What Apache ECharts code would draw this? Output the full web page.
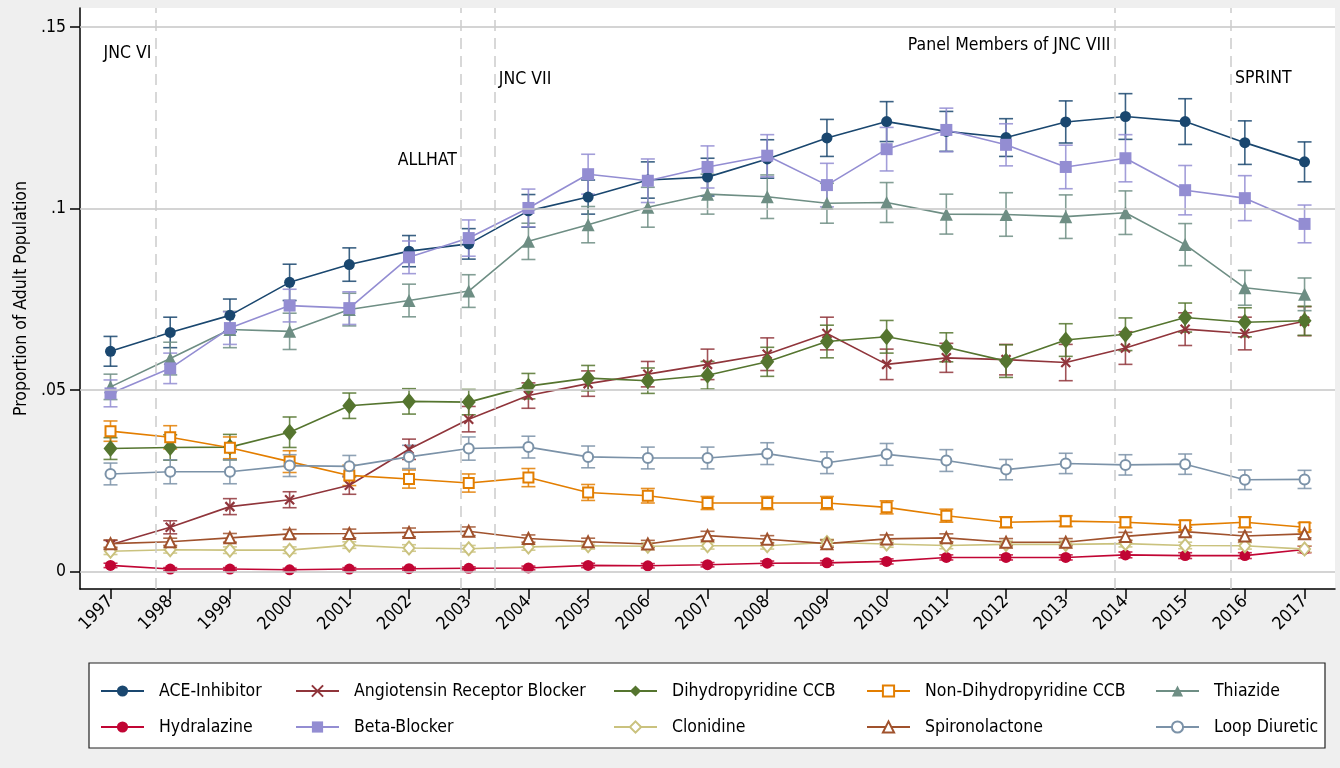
<!DOCTYPE html>
<html><head><meta charset="utf-8">
<script src="https://cdn.jsdelivr.net/npm/echarts@6/dist/echarts.min.js"></script>
<style>html,body{margin:0;padding:0;background:#efefef;}#c{width:1340px;height:768px;}</style>
</head><body><div id="c"></div>
<script>
// ---------- data ----------
const years = [1997,1998,1999,2000,2001,2002,2003,2004,2005,2006,2007,2008,2009,2010,2011,2012,2013,2014,2015,2016,2017];
const yTicks = [0, 0.05, 0.1, 0.15];

const aceInhibitor = [0.0607,0.0659,0.0706,0.0797,0.0846,0.0883,0.0903,0.0994,0.1032,0.1079,0.1087,0.1137,0.1195,0.1240,0.1213,0.1196,0.1239,0.1254,0.1240,0.1182,0.1129];
const aceErr       = [0.0041,0.0042,0.0045,0.0050,0.0046,0.0043,0.0042,0.0045,0.0047,0.0050,0.0052,0.0053,0.0051,0.0055,0.0055,0.0052,0.0058,0.0063,0.0063,0.0060,0.0055];
const arb          = [0.0074,0.0122,0.0179,0.0198,0.0238,0.0337,0.0420,0.0485,0.0518,0.0544,0.0571,0.0599,0.0656,0.0571,0.0589,0.0584,0.0576,0.0616,0.0668,0.0656,0.0690];
const arbErr       = [0.0012,0.0018,0.0022,0.0022,0.0025,0.0028,0.0035,0.0035,0.0035,0.0035,0.0042,0.0045,0.0045,0.0042,0.0040,0.0042,0.0050,0.0045,0.0045,0.0045,0.0040];
const dhpCcb       = [0.0339,0.0342,0.0343,0.0384,0.0457,0.0469,0.0467,0.0511,0.0533,0.0526,0.0541,0.0578,0.0634,0.0647,0.0618,0.0580,0.0638,0.0654,0.0700,0.0687,0.0691];
const dhpErr       = [0.0030,0.0035,0.0035,0.0042,0.0035,0.0035,0.0035,0.0035,0.0035,0.0035,0.0038,0.0040,0.0045,0.0045,0.0040,0.0045,0.0045,0.0045,0.0040,0.0040,0.0040];
const nonDhpCcb    = [0.0387,0.0370,0.0341,0.0303,0.0265,0.0255,0.0244,0.0259,0.0218,0.0209,0.0189,0.0189,0.0189,0.0177,0.0154,0.0136,0.0139,0.0136,0.0128,0.0136,0.0122];
const nonDhpErr    = [0.0028,0.0032,0.0030,0.0030,0.0028,0.0025,0.0025,0.0025,0.0022,0.0020,0.0018,0.0018,0.0018,0.0018,0.0018,0.0015,0.0015,0.0015,0.0013,0.0015,0.0012];
const thiazide     = [0.0509,0.0587,0.0667,0.0662,0.0722,0.0747,0.0773,0.0910,0.0956,0.1004,0.1040,0.1033,0.1015,0.1017,0.0985,0.0984,0.0978,0.0989,0.0901,0.0782,0.0764];
const thiazideErr  = [0.0035,0.0045,0.0050,0.0050,0.0045,0.0045,0.0045,0.0050,0.0050,0.0055,0.0055,0.0060,0.0055,0.0055,0.0055,0.0060,0.0060,0.0060,0.0058,0.0048,0.0045];
const hydralazine  = [0.0017,0.0007,0.0007,0.0005,0.0007,0.0008,0.0009,0.0010,0.0017,0.0016,0.0019,0.0023,0.0024,0.0028,0.0039,0.0039,0.0039,0.0046,0.0044,0.0044,0.0061];
const hydraErr     = [0.0006,0.0004,0.0004,0.0004,0.0004,0.0004,0.0004,0.0005,0.0006,0.0006,0.0006,0.0006,0.0006,0.0007,0.0007,0.0007,0.0007,0.0008,0.0008,0.0008,0.0009];
const betaBlocker  = [0.0491,0.0560,0.0671,0.0733,0.0726,0.0866,0.0919,0.1002,0.1095,0.1077,0.1115,0.1146,0.1065,0.1164,0.1217,0.1176,0.1115,0.1139,0.1051,0.1029,0.0958];
const betaErr      = [0.0037,0.0042,0.0045,0.0045,0.0045,0.0045,0.0050,0.0052,0.0055,0.0060,0.0058,0.0058,0.0060,0.0060,0.0060,0.0058,0.0060,0.0065,0.0068,0.0062,0.0052];
const clonidine    = [0.0056,0.0060,0.0059,0.0059,0.0073,0.0065,0.0063,0.0068,0.0071,0.0070,0.0071,0.0071,0.0080,0.0076,0.0072,0.0075,0.0075,0.0077,0.0072,0.0071,0.0062];
const clonErr      = [0.0009,0.0009,0.0009,0.0009,0.0009,0.0009,0.0009,0.0009,0.0009,0.0009,0.0009,0.0009,0.0009,0.0009,0.0009,0.0009,0.0009,0.0009,0.0009,0.0009,0.0009];
const spironolactone = [0.0077,0.0082,0.0093,0.0104,0.0105,0.0108,0.0111,0.0091,0.0082,0.0076,0.0099,0.0089,0.0077,0.0090,0.0093,0.0081,0.0081,0.0097,0.0110,0.0098,0.0104];
const spiroErr     = [0.0010,0.0010,0.0012,0.0012,0.0012,0.0012,0.0012,0.0010,0.0010,0.0010,0.0012,0.0010,0.0010,0.0011,0.0011,0.0010,0.0010,0.0011,0.0012,0.0011,0.0011];
const loopDiuretic = [0.0269,0.0275,0.0275,0.0292,0.0290,0.0316,0.0339,0.0343,0.0316,0.0313,0.0313,0.0325,0.0300,0.0323,0.0306,0.0281,0.0298,0.0294,0.0296,0.0253,0.0254];
const loopErr      = [0.0030,0.0033,0.0033,0.0030,0.0030,0.0032,0.0032,0.0030,0.0030,0.0030,0.0030,0.0030,0.0030,0.0030,0.0030,0.0028,0.0028,0.0028,0.0028,0.0027,0.0025];

const eventYears  = [1997.752, 2002.868, 2003.437, 2013.816, 2015.77];
const eventLabels = ['JNC VI', 'ALLHAT', 'JNC VII', 'Panel Members of JNC VIII', 'SPRINT'];
const eventLabelY = [0.1429, 0.1132, 0.1357, 0.1451, 0.1360];
const eventAlign  = ['right', 'right', 'left', 'right', 'left'];

// ---------- styling ----------
const FONT = "'DejaVu Sans Condensed','Liberation Sans',sans-serif";
const FS = 17.5;
const defs = [
  {name:'ACE-Inhibitor', v:aceInhibitor, e:aceErr, c:'#1a476f', sym:'circle', size:11},
  {name:'Angiotensin Receptor Blocker', v:arb, e:arbErr, c:'#90353b', sym:'path://M0,0L10,10M10,0L0,10', size:9, cross:true},
  {name:'Dihydropyridine CCB', v:dhpCcb, e:dhpErr, c:'#55752f', sym:'diamond', size:[14,17]},
  {name:'Non-Dihydropyridine CCB', v:nonDhpCcb, e:nonDhpErr, c:'#e37e00', sym:'emptyRect', size:10},
  {name:'Thiazide', v:thiazide, e:thiazideErr, c:'#6e8e84', sym:'triangle', size:13},
  {name:'Hydralazine', v:hydralazine, e:hydraErr, c:'#c10534', sym:'circle', size:11},
  {name:'Beta-Blocker', v:betaBlocker, e:betaErr, c:'#938dd2', sym:'rect', size:12},
  {name:'Clonidine', v:clonidine, e:clonErr, c:'#cac27e', sym:'emptyDiamond', size:[11,13]},
  {name:'Spironolactone', v:spironolactone, e:spiroErr, c:'#a0522d', sym:'emptyTriangle', size:11},
  {name:'Loop Diuretic', v:loopDiuretic, e:loopErr, c:'#7b92a8', sym:'emptyCircle', size:10}
];

const series = [];
series.push({
  type:'line', name:'_grid', data:[], silent:true, z:1,
  markLine:{silent:true, symbol:'none', animation:false, label:{show:false},
    lineStyle:{color:'#c6c6c6', width:1.5, type:'solid'},
    data: yTicks.map(v => ({yAxis:v}))}
});
series.push({
  type:'line', name:'_events', data:[], silent:true, z:1,
  markLine:{silent:true, symbol:'none', animation:false, label:{show:false},
    lineStyle:{color:'#cccccc', width:1.5, type:[11,7]},
    data: eventYears.map(v => ({xAxis:v}))}
});
defs.forEach(d => {
  series.push({
    type:'line', name:d.name, z:3, silent:true, animation:false,
    data: years.map((y,i) => [y, d.v[i]]),
    symbol:d.sym, symbolSize:d.size, showAllSymbol:true,
    lineStyle:{color:d.c, width:1.6},
    itemStyle: d.cross ? {color:d.c, borderColor:d.c, borderWidth:2.2} : {color:d.c, borderWidth: d.sym.indexOf('empty')===0 ? 2 : 0}
  });
  series.push({
    type:'custom', name:d.name + ' CI', z:3, silent:true, animation:false,
    data: years.map((y,i) => [y, d.v[i]-d.e[i], d.v[i]+d.e[i]]),
    encode:{x:0, y:[1,2]},
    renderItem: (params, api) => {
      const x = api.value(0);
      const p1 = api.coord([x, api.value(1)]);
      const p2 = api.coord([x, api.value(2)]);
      const hw = 7;
      const st = {stroke:d.c, lineWidth:1.6, opacity:0.85};
      return {type:'group', children:[
        {type:'line', shape:{x1:p1[0], y1:p1[1], x2:p2[0], y2:p2[1]}, style:st},
        {type:'line', shape:{x1:p1[0]-hw, y1:p1[1], x2:p1[0]+hw, y2:p1[1]}, style:st},
        {type:'line', shape:{x1:p2[0]-hw, y1:p2[1], x2:p2[0]+hw, y2:p2[1]}, style:st}
      ]};
    }
  });
});

const legendLeft = [100, 295, 613, 866, 1155];
const legends = legendLeft.map((l, i) => ({
  orient:'vertical', left:l, top:681, padding:0, itemGap:16,
  itemWidth:43, itemHeight:14, selectedMode:false,
  data:[defs[i].name, defs[i+5].name],
  textStyle:{fontFamily:FONT, fontSize:FS, color:'#000', padding:[0,0,0,10], lineHeight:20}
}));

const legendBox = {type:'rect', z:0, shape:{x:89, y:663, width:1236, height:85},
  style:{fill:'#fff', stroke:'#222', lineWidth:1.2}, silent:true};

const option = {
  backgroundColor:'#efefef',
  animation:false,
  grid:{left:80, right:5, top:8, bottom:179, show:true, backgroundColor:'#fff', borderWidth:0},
  xAxis:{
    type:'value', min:1996.489, max:2017.51,
    axisLine:{show:true, onZero:false, lineStyle:{color:'#000', width:1.5}},
    axisTick:{show:true, customValues:years, length:10, lineStyle:{color:'#000', width:1.5}},
    axisLabel:{customValues:years, rotate:45, margin:10, fontFamily:FONT, fontSize:FS, color:'#000',
      formatter: v => String(Math.round(v))},
    splitLine:{show:false}
  },
  yAxis:{
    type:'value', min:-0.0048, max:0.1553,
    name:'Proportion of Adult Population', nameLocation:'middle', nameGap:50,
    nameTextStyle:{fontFamily:FONT, fontSize:FS, color:'#000'},
    axisLine:{show:true, onZero:false, lineStyle:{color:'#000', width:1.5}},
    axisTick:{show:true, customValues:yTicks, length:10, lineStyle:{color:'#000', width:1.5}},
    axisLabel:{customValues:yTicks, margin:14, fontFamily:FONT, fontSize:FS, color:'#000',
      formatter: v => v === 0 ? '0' : String(+v.toFixed(2)).replace(/^0\./, '.')},
    splitLine:{show:false}
  },
  legend: legends,
  graphic:[legendBox],
  series: series
};

const chart = echarts.init(document.getElementById('c'));
chart.setOption(option);

const texts = eventYears.map((x, i) => {
  const p = chart.convertToPixel({gridIndex:0}, [x, eventLabelY[i]]);
  const off = eventAlign[i] === 'right' ? -4 : 4;
  return {type:'text', z:5, silent:true, x:p[0] + off, y:p[1],
    style:{text:eventLabels[i], fill:'#000', font: FS + 'px ' + FONT, align:eventAlign[i], verticalAlign:'middle'}};
});
chart.setOption({graphic:[legendBox].concat(texts)});
</script>
</body></html>
